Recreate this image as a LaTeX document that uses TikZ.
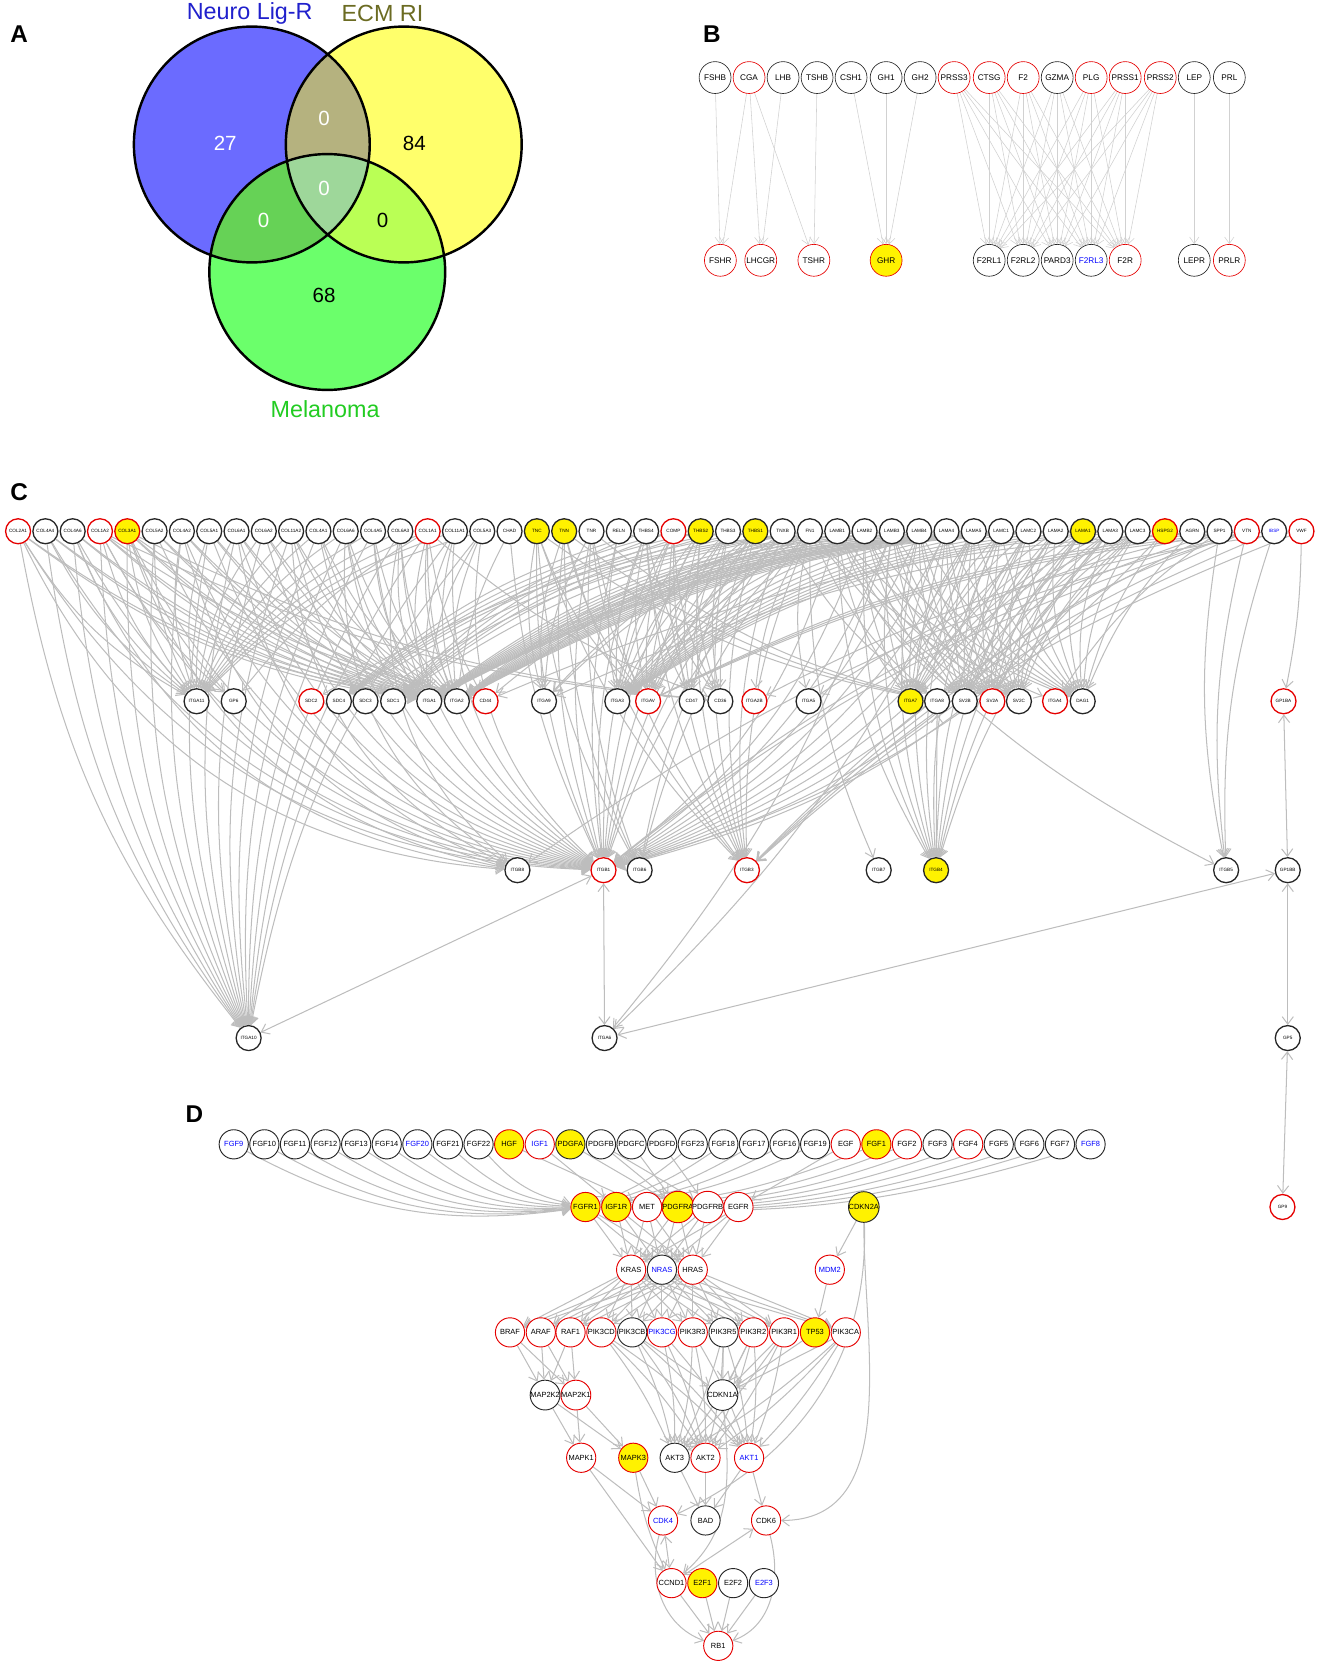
\documentclass[tikz,border=0pt]{standalone}
\usepackage{fontspec}
\setmainfont{Liberation Sans}
\usetikzlibrary{arrows.meta}
\usetikzlibrary{backgrounds}

\definecolor{vblue}{HTML}{6B6BFF}
\definecolor{vyellow}{HTML}{FFFF6B}
\definecolor{vgreen}{HTML}{6BFF6B}
\definecolor{vby}{HTML}{B5B27F}
\definecolor{vbg}{HTML}{66D256}
\definecolor{vyg}{HTML}{BAFF55}
\definecolor{vall}{HTML}{9ED79A}
\definecolor{setblue}{HTML}{2020CC}
\definecolor{setolive}{HTML}{6B6B22}
\definecolor{setgreen}{HTML}{22CC22}
\definecolor{edgegray}{HTML}{BDBDBD}

\tikzset{
  gene/.style={circle, draw=black!85, fill=white, inner sep=0pt, line width=0.5pt},
  gc/.style={gene, minimum size=0.47cm, line width=0.7pt, font=\fontsize{2.5}{3}\selectfont},
  gd/.style={gene, minimum size=0.55cm, font=\fontsize{4}{4.5}\selectfont},
  gb/.style={gene, minimum size=0.6cm, line width=0.35pt, font=\fontsize{4.4}{5}\selectfont},
  nrm/.style={},
  mut/.style={draw=red!90!black},
  hit/.style={fill=yellow},
  nov/.style={text=blue},
  hm/.style={hit, mut},
  nm/.style={nov, mut},
  panel/.style={font=\bfseries\fontsize{13}{14}\selectfont},
  link/.style={color=edgegray, line width=0.55pt, -{Straight Barb[length=4pt, width=6pt]}},
  thin link/.style={color=edgegray!70, line width=0.3pt, -{Straight Barb[length=3.5pt, width=5pt]}},
  both/.style={{Straight Barb[length=4pt, width=6pt]}-{Straight Barb[length=4pt, width=6pt]}},
  venn/.style={radius=2.22cm}
}

\begin{document}
\begin{tikzpicture}[x=0.02cm, y=-0.02cm]
  \useasboundingbox (0,0) rectangle (1245,1568);

  % panel letters
  \node at (18, 32) (labA) [panel] {A};
  \node at (670, 32) (labB) [panel] {B};
  \node at (18, 463) (labC) [panel] {C};
  \node at (183, 1049) (labD) [panel] {D};

  % ---------- A: venn ----------
  \coordinate (cb) at (237, 136);
  \coordinate (cy) at (380, 136);
  \coordinate (cg) at (308, 256);
  \fill [vblue] (cb) circle [venn];
  \fill [vyellow] (cy) circle [venn];
  \fill [vgreen] (cg) circle [venn];
  \begin{scope}
    \clip (cb) circle [venn];
    \fill [vby] (cy) circle [venn];
    \fill [vbg] (cg) circle [venn];
  \end{scope}
  \begin{scope}
    \clip (cy) circle [venn];
    \fill [vyg] (cg) circle [venn];
    \clip (cb) circle [venn];
    \fill [vall] (cg) circle [venn];
  \end{scope}
  \draw [line width=1.3pt] (cb) circle [venn] (cy) circle [venn] (cg) circle [venn];

  \node at (235, 13) (setA) [text=setblue, font=\fontsize{12.5}{14}\selectfont] {Neuro Lig-R};
  \node at (360, 13) (setB) [text=setolive, font=\fontsize{12.5}{14}\selectfont] {ECM RI};
  \node at (306, 385) (setC) [text=setgreen, font=\fontsize{12.5}{14}\selectfont] {Melanoma};
  \begin{scope}[font=\fontsize{11}{12}\selectfont]
    \node at (212, 135) (nB) [white] {27};
    \node at (305, 111) (nBY) [white] {0};
    \node at (390, 135) (nY) {84};
    \node at (305, 177) (nBYG) [white] {0};
    \node at (248, 207) (nBG) [white] {0};
    \node at (360, 207) (nYG) {0};
    \node at (305, 278) (nG) {68};
  \end{scope}

  % ---------- B ----------
  \foreach \gn/\x/\st in {FSHB/673/nrm, CGA/705/mut, LHB/737/nrm, TSHB/769/nrm, CSH1/801/nrm,
      GH1/834/nrm, GH2/866/nrm, PRSS3/898/mut, CTSG/931/mut, F2/963/mut, GZMA/995/nrm,
      PLG/1027/mut, PRSS1/1059/mut, PRSS2/1092/mut, LEP/1124/nrm, PRL/1157/nrm}
    \node at (\x, 73) (\gn) [gb, \st] {\gn};
  \foreach \gn/\x/\st in {FSHR/678/mut, LHCGR/716/mut, TSHR/766/mut, GHR/834/hm, F2RL1/931/nrm,
      F2RL2/963/nrm, PARD3/995/nrm, F2RL3/1027/nov, F2R/1059/mut, LEPR/1124/nrm, PRLR/1157/mut}
    \node at (\x, 245) (\gn) [gb, \st] {\gn};

  \begin{scope}[on background layer]
  \begin{scope}[thin link]
    \draw (FSHB) -- (FSHR);
    \draw (CGA) -- (FSHR);
    \draw (CGA) -- (LHCGR);
    \draw (CGA) -- (TSHR);
    \draw (LHB) -- (LHCGR);
    \draw (TSHB) -- (TSHR);
    \draw (CSH1) -- (GHR);
    \draw (GH1) -- (GHR);
    \draw (GH2) -- (GHR);
    \draw (LEP) -- (LEPR);
    \draw (PRL) -- (PRLR);
    \foreach \s in {PRSS3, CTSG, F2, GZMA, PLG, PRSS1, PRSS2}
      \foreach \t in {F2RL1, F2RL2, PARD3, F2RL3, F2R}
        \draw (\s) -- (\t);
  \end{scope}
  \end{scope}

  % ---------- C ----------
  \foreach \gn/\st [count=\i] in {COL2A1/mut, COL4A4/nrm, COL4A6/nrm, COL1A2/mut, COL3A1/hm,
      COL5A2/nrm, COL4A2/nrm, COL5A1/nrm, COL6A1/nrm, COL6A2/nrm, COL11A2/nrm, COL4A1/nrm,
      COL6A6/nrm, COL4A5/nrm, COL6A3/nrm, COL1A1/mut, COL11A1/nrm, COL5A3/nrm, CHAD/nrm,
      TNC/hit, TNN/hit, TNR/nrm, RELN/nrm, THBS4/nrm, COMP/mut, THBS2/hit, THBS3/nrm,
      THBS1/hit, TNXB/nrm, FN1/nrm, LAMB1/nrm, LAMB2/nrm, LAMB3/nrm, LAMB4/nrm, LAMA4/nrm,
      LAMA5/nrm, LAMC1/nrm, LAMC2/nrm, LAMA2/nrm, LAMA1/hit, LAMA3/nrm, LAMC3/nrm, HSPG2/hm,
      AGRN/nrm, SPP1/nrm, VTN/mut, IBSP/nov, VWF/mut}
    \node at ({17+25.7*(\i-1)}, 500) (\gn) [gc, \st] {\gn};
  \foreach \gn/\x/\st in {ITGA11/185/nrm, GP6/220/nrm, SDC2/293/mut, SDC4/319/nrm, SDC3/344/nrm,
      SDC1/370/nrm, ITGA1/404/nrm, ITGA2/430/nrm, CD44/457/mut, ITGA9/512/nrm, ITGA3/581/nrm,
      ITGAV/610/mut, CD47/651/nrm, CD36/678/nrm, ITGA2B/710/mut, ITGA5/761/nrm, ITGA7/857/hit,
      ITGA8/882/nrm, SV2B/908/nrm, SV2A/934/mut, SV2C/959/nrm, ITGA4/993/mut, DAG1/1019/nrm,
      GP1BA/1208/mut}
    \node at (\x, 660) (\gn) [gc, \st] {\gn};
  \foreach \gn/\x/\st in {ITGB8/487/nrm, ITGB1/568/mut, ITGB6/602/nrm, ITGB3/703/mut,
      ITGB7/827/nrm, ITGB4/881/hit, ITGB5/1154/nrm, GP1BB/1212/nrm}
    \node at (\x, 819) (\gn) [gc, \st] {\gn};
  \node at (234, 977) (ITGA10) [gc] {ITGA10};
  \node at (569, 977) (ITGA6) [gc] {ITGA6};
  \node at (1212, 977) (GP5) [gc] {GP5};
  \node at (1207, 1136) (GP9) [gc, mut] {GP9};

  \begin{scope}[on background layer]
  \begin{scope}[link]
    % collagens
    \foreach \s in {COL2A1, COL4A4, COL4A6, COL1A2, COL3A1, COL5A2, COL4A2, COL5A1, COL6A1,
        COL6A2, COL11A2, COL4A1, COL6A6, COL4A5, COL6A3, COL1A1, COL11A1, COL5A3}
      \foreach \t in {ITGA1, ITGA2, ITGA10, ITGA11}
        \draw (\s) to[bend right=14] (\t);
    \foreach \s in {COL2A1, COL4A4, COL4A6, COL1A2, COL3A1, COL5A2, COL4A2, COL5A1, COL6A1,
        COL6A2, COL11A2, COL4A1, COL6A6, COL4A5, COL6A3, COL1A1, COL11A1, COL5A3}
      \draw (\s) to[bend right=28] (ITGB1);
    \foreach \s in {COL2A1, COL4A6, COL3A1, COL4A2, COL6A1, COL11A2, COL6A6, COL6A3}
      \draw (\s) to[bend right=30] (ITGB8);
    \foreach \s in {COL1A1, COL1A2, COL3A1}
      \foreach \t in {GP6, CD44, CD36}
        \draw (\s) to[bend right=10] (\t);
    \draw (CHAD) to[bend right=10] (ITGA2);
    \draw (CHAD) to[bend right=10] (ITGB1);
    \draw (RELN) to[bend right=10] (ITGA3);
    \draw (RELN) to[bend right=10] (ITGB1);
    % tenascins
    \foreach \s in {TNC, TNN, TNR, TNXB}
      \foreach \t in {ITGA8, ITGA9, ITGAV, ITGB3, ITGB6, ITGB1}
        \draw (\s) to[bend right=12] (\t);
    % thrombospondins
    \foreach \s in {THBS4, COMP, THBS2, THBS3, THBS1}
      \foreach \t in {CD47, CD36, ITGB3, ITGAV, SDC1, SDC4, ITGB1, ITGA3}
        \draw (\s) to[bend right=12] (\t);
    % fibronectin
    \foreach \t in {ITGA5, ITGAV, ITGA4, ITGA8, ITGA2B, ITGA3, ITGA9, ITGB1, ITGB3, ITGB6,
        ITGB7, ITGB5, CD44, SDC1, SDC2, SDC3, SDC4}
      \draw (FN1) to[bend right=12] (\t);
    % laminins
    \foreach \s in {LAMB1, LAMB2, LAMB3, LAMB4, LAMA4, LAMA5, LAMC1, LAMC2, LAMA2, LAMA1,
        LAMA3, LAMC3}
      \foreach \t in {ITGA1, ITGA2, ITGA3, ITGA7, ITGB4, SV2A, SV2B, SV2C, DAG1}
        \draw (\s) to[bend right=14] (\t);
    \foreach \s in {LAMB1, LAMB2, LAMB3, LAMB4, LAMA4, LAMA5, LAMC1, LAMC2, LAMA2, LAMA1,
        LAMA3, LAMC3}
      \draw (\s) to[bend left=18] (ITGB1);
    \draw (LAMA5) to[bend left=10] (ITGA6);
    \draw (LAMB3) to[bend left=10] (ITGA6);
    \draw (HSPG2) to[bend right=10] (DAG1);
    \draw (HSPG2) to[bend left=15] (ITGB1);
    \draw (AGRN) to[bend right=10] (DAG1);
    \foreach \t in {CD44, ITGAV, ITGB1, ITGB3, ITGB5, ITGA4, ITGA9, ITGA5}
      \draw (SPP1) to[bend right=10] (\t);
    \foreach \t in {ITGAV, ITGB3, ITGB5, ITGB8, ITGB1, ITGA8}
      \draw (VTN) to[bend right=10] (\t);
    \foreach \t in {ITGAV, ITGB3, ITGB5}
      \draw (IBSP) to[bend right=10] (\t);
    \draw (VWF) to[bend left=5] (GP1BA);
    \draw (VWF) to[bend right=10] (ITGA2B);
    \draw (VWF) to[bend right=10] (ITGB3);
    % receptor pairs
    \draw [both] (ITGA10) -- (ITGB1);
    \draw [both] (ITGB1) -- (ITGA6);
    \draw [both] (ITGA8) -- (ITGB4);
    \draw [both] (GP1BB) -- (ITGA6);
    \draw [both] (GP1BA) -- (GP1BB);
    \draw [both] (GP1BB) -- (GP5);
    \draw [both] (GP5) -- (GP9);
  \end{scope}
  \end{scope}

  % ---------- D ----------
  \foreach \gn/\st [count=\i] in {FGF9/nov, FGF10/nrm, FGF11/nrm, FGF12/nrm, FGF13/nrm,
      FGF14/nrm, FGF20/nov, FGF21/nrm, FGF22/nrm, HGF/hm, IGF1/nm, PDGFA/hit, PDGFB/nrm,
      PDGFC/nrm, PDGFD/nrm, FGF23/nrm, FGF18/nrm, FGF17/nrm, FGF16/nrm, FGF19/nrm, EGF/mut,
      FGF1/hm, FGF2/mut, FGF3/nrm, FGF4/mut, FGF5/nrm, FGF6/nrm, FGF7/nrm, FGF8/nov}
    \node at ({220+28.8*(\i-1)}, 1077) (\gn) [gd, \st] {\gn};
  \foreach \gn/\x/\st in {FGFR1/551/hm, IGF1R/580/hm, MET/609/mut, PDGFRA/638/hm,
      PDGFRB/666/mut, EGFR/695/mut, CDKN2A/813/hit}
    \node at (\x, 1136) (\gn) [gd, \st] {\gn};
  \foreach \gn/\x/\st in {KRAS/594/mut, NRAS/623/nov, HRAS/652/mut, MDM2/781/nm}
    \node at (\x, 1195) (\gn) [gd, \st] {\gn};
  \foreach \gn/\x/\st in {BRAF/480/mut, ARAF/509/mut, RAF1/537/mut, PIK3CD/566/mut,
      PIK3CB/595/nrm, PIK3CG/623/nm, PIK3R3/652/mut, PIK3R5/681/nrm, PIK3R2/709/mut,
      PIK3R1/738/mut, TP53/767/hm, PIK3CA/796/mut}
    \node at (\x, 1254) (\gn) [gd, \st] {\gn};
  \foreach \gn/\x/\st in {MAP2K2/513/nrm, MAP2K1/542/mut, CDKN1A/680/nrm}
    \node at (\x, 1313) (\gn) [gd, \st] {\gn};
  \foreach \gn/\x/\st in {MAPK1/547/mut, MAPK3/596/hm, AKT3/635/nrm, AKT2/664/mut, AKT1/705/nm}
    \node at (\x, 1372) (\gn) [gd, \st] {\gn};
  \foreach \gn/\x/\st in {CDK4/624/nm, BAD/664/nrm, CDK6/721/mut}
    \node at (\x, 1431) (\gn) [gd, \st] {\gn};
  \foreach \gn/\x/\st in {CCND1/632/mut, E2F1/661/hm, E2F2/690/nrm, E2F3/719/nov}
    \node at (\x, 1490) (\gn) [gd, \st] {\gn};
  \node at (676, 1549) (RB1) [gd, mut] {RB1};

  \begin{scope}[on background layer]
  \begin{scope}[link]
    % growth factors
    \foreach \s in {FGF9, FGF10, FGF11, FGF12, FGF13, FGF14, FGF20, FGF21, FGF22}
      \draw (\s) to[bend right=18] (FGFR1);
    \foreach \s in {FGF23, FGF18, FGF17, FGF16, FGF19, FGF1, FGF2, FGF3, FGF4, FGF5, FGF6,
        FGF7, FGF8}
      \draw (\s) to[bend left=10] (FGFR1);
    \draw (HGF) -- (MET);
    \draw (IGF1) -- (IGF1R);
    \draw (PDGFA) -- (PDGFRA);
    \draw (PDGFB) -- (PDGFRA);
    \draw (PDGFB) -- (PDGFRB);
    \draw (PDGFC) -- (PDGFRA);
    \draw (PDGFD) -- (PDGFRB);
    \draw (EGF) -- (EGFR);
    % receptors to ras
    \foreach \s in {FGFR1, IGF1R, MET, PDGFRA, PDGFRB, EGFR}
      \foreach \t in {KRAS, NRAS, HRAS}
        \draw (\s) -- (\t);
    \foreach \s in {KRAS, NRAS, HRAS}
      \foreach \t in {BRAF, ARAF, RAF1, PIK3CD, PIK3CB, PIK3CG, PIK3R3, PIK3R5, PIK3R2,
          PIK3R1, PIK3CA}
        \draw (\s) -- (\t);
    % raf / mek / erk
    \foreach \s in {BRAF, ARAF, RAF1}
      \foreach \t in {MAP2K2, MAP2K1}
        \draw (\s) -- (\t);
    \foreach \s in {MAP2K2, MAP2K1}
      \foreach \t in {MAPK1, MAPK3}
        \draw (\s) -- (\t);
    % pi3k / akt
    \foreach \s in {PIK3CD, PIK3CB, PIK3CG, PIK3R3, PIK3R5, PIK3R2, PIK3R1, PIK3CA}
      \foreach \t in {AKT3, AKT2, AKT1}
        \draw (\s) to[bend left=6] (\t);
    \foreach \s in {TP53, PIK3CA, PIK3R1, PIK3R2, PIK3R5, PIK3CB}
      \draw (\s) -- (CDKN1A);
    \foreach \s in {AKT3, AKT2, AKT1}
      \draw (\s) -- (BAD);
    % cell cycle
    \draw (CDKN2A) -- (MDM2);
    \draw (MDM2) -- (TP53);
    \draw (CDKN2A) to[out=-88, in=25] (CDK4);
    \draw (CDKN2A) to[out=-90, in=0] (CDK6);
    \draw (CDKN1A) to[out=-85, in=40] (CCND1);
    \draw (MAPK1) -- (CDK4);
    \draw (MAPK1) -- (CCND1);
    \draw (MAPK3) -- (CDK4);
    \draw (MAPK3) to[bend right=8] (CCND1);
    \draw (AKT1) -- (CDK6);
    \draw [both] (CDK4) -- (CCND1);
    \draw [both] (CCND1) -- (CDK6);
    \draw (CDK4) to[out=-105, in=160] (RB1);
    \draw (CDK6) to[out=-75, in=20] (RB1);
    \foreach \s in {CCND1, E2F1, E2F2, E2F3}
      \draw (\s) -- (RB1);
  \end{scope}
  \end{scope}

\end{tikzpicture}
\end{document}
